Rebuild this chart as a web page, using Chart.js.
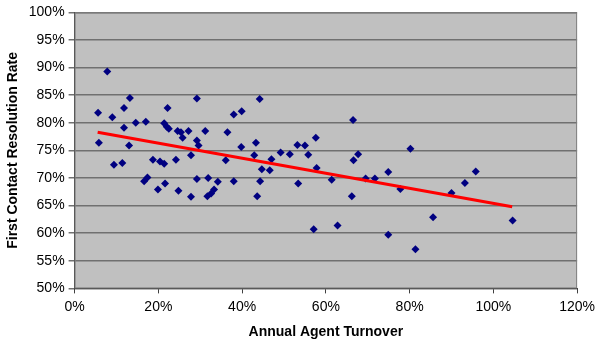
<!DOCTYPE html>
<html>
<head>
<meta charset="utf-8">
<script src="https://cdn.jsdelivr.net/npm/chart.js@4"></script>
<style>
  html, body { margin: 0; padding: 0; background: #fff; }
  #wrap { width: 600px; height: 341px; }
</style>
</head>
<body>
<div id="wrap"><canvas id="scatter" width="600" height="341"></canvas></div>
<script>
// annual agent turnover (%) and first contact resolution rate (%)
const turnover = [
  5.6, 5.8, 7.8, 9.0, 9.4, 11.8, 11.8, 11.4, 13.2, 13.0,
  14.6, 17.0, 16.6, 17.4, 18.7, 19.9, 20.4, 21.4, 21.6, 21.4,
  22.0, 22.5, 22.2, 24.2, 24.6, 25.4, 25.8, 24.8, 27.2, 27.8,
  27.8, 29.2, 29.2, 29.6, 29.2, 44.2, 38.0, 39.9, 31.2, 36.5,
  39.8, 43.3, 42.9, 36.1, 44.7, 44.3, 31.9, 34.2, 38.0, 31.7,
  32.6, 33.3, 43.6, 66.5, 57.6, 53.2, 55.0, 49.2, 51.4, 55.8,
  67.7, 66.6, 47.0, 46.6, 57.8, 74.9, 53.4, 61.4, 69.5, 71.7,
  66.2, 57.1, 62.8, 74.9, 80.2, 95.8, 93.2, 77.8, 90.0, 85.6,
  104.6, 81.4
];
const resolution = [
  81.8, 76.4, 89.3, 81.0, 72.4, 82.7, 79.1, 72.7, 84.5, 75.9,
  80.0, 80.2, 69.4, 70.1, 73.3, 67.9, 73.0, 72.6, 69.0, 79.9,
  79.3, 78.9, 82.7, 73.3, 78.5, 78.3, 77.3, 67.7, 78.5, 74.1,
  66.6, 84.4, 76.8, 75.9, 69.8, 84.3, 81.5, 82.1, 78.5, 78.3,
  75.6, 76.4, 74.1, 73.2, 71.6, 69.4, 70.0, 69.3, 69.4, 66.7,
  67.2, 67.9, 66.7, 80.5, 77.3, 76.0, 75.9, 74.6, 74.3, 74.2,
  74.3, 73.2, 73.4, 71.4, 71.8, 71.1, 69.0, 69.7, 69.9, 69.9,
  66.7, 60.7, 61.4, 59.7, 75.3, 71.2, 69.1, 68.0, 67.3, 62.9,
  62.3, 57.1
];
// linear trend line end points
const trendX = [5.5, 104.5];
const trendY = [78.3, 64.8];

const xTicks = { min: 0, max: 120, step: 20 };
const yTicks = { min: 50, max: 100, step: 5 };

const plotBg = {
  id: "plotBg",
  beforeDraw(chart) {
    const { ctx, chartArea: a } = chart;
    ctx.save();
    ctx.fillStyle = "#c0c0c0";
    ctx.fillRect(a.left, a.top, a.right - a.left, a.bottom - a.top);
    ctx.restore();
  },
  afterDatasetsDraw(chart) {
    const { ctx, chartArea: a } = chart;
    ctx.save();
    ctx.strokeStyle = "#808080";
    ctx.lineWidth = 1;
    ctx.strokeRect(a.left + 0.5, a.top + 0.5, a.right - a.left - 1, a.bottom - a.top - 1);
    ctx.restore();
  }
};

const font = "'Liberation Sans', Arial, sans-serif";

new Chart(document.getElementById("scatter").getContext("2d"), {
  type: "scatter",
  data: {
    datasets: [
      {
        label: "Turnover vs FCR",
        data: turnover.map((x, i) => ({ x: x, y: resolution[i] })),
        pointStyle: "rectRot",
        pointRadius: 4,
        pointHoverRadius: 4,
        backgroundColor: "#000080",
        borderColor: "#000080",
        borderWidth: 0,
        order: 2
      },
      {
        label: "Trend",
        type: "line",
        data: trendX.map((x, i) => ({ x: x, y: trendY[i] })),
        borderColor: "#ff0000",
        borderWidth: 3,
        pointRadius: 0,
        fill: false,
        order: 1
      }
    ]
  },
  options: {
    responsive: false,
    animation: false,
    layout: { padding: { left: 5, right: 22, top: 1, bottom: 0 } },
    plugins: {
      legend: { display: false },
      tooltip: { enabled: false }
    },
    scales: {
      x: {
        type: "linear",
        min: xTicks.min,
        max: xTicks.max,
        ticks: {
          stepSize: xTicks.step,
          callback: v => v + "%",
          color: "#000",
          font: { family: font, size: 14 },
          padding: 5
        },
        grid: { drawOnChartArea: false, color: "#404040", tickLength: 5 },
        border: { color: "#404040" },
        title: {
          display: true,
          text: "Annual Agent Turnover",
          color: "#000",
          font: { family: font, size: 14, weight: "bold" },
          padding: { top: 4, bottom: 0 }
        }
      },
      y: {
        min: yTicks.min,
        max: yTicks.max,
        ticks: {
          stepSize: yTicks.step,
          callback: v => v + "%",
          color: "#000",
          font: { family: font, size: 14 },
          padding: 4
        },
        grid: { color: "#707070", lineWidth: 1.5, tickLength: 6 },
        border: { color: "#404040" },
        title: {
          display: true,
          text: "First Contact Resolution Rate",
          color: "#000",
          font: { family: font, size: 14, weight: "bold" },
          padding: { top: 0, bottom: 3 }
        }
      }
    }
  },
  plugins: [plotBg]
});
</script>
</body>
</html>
